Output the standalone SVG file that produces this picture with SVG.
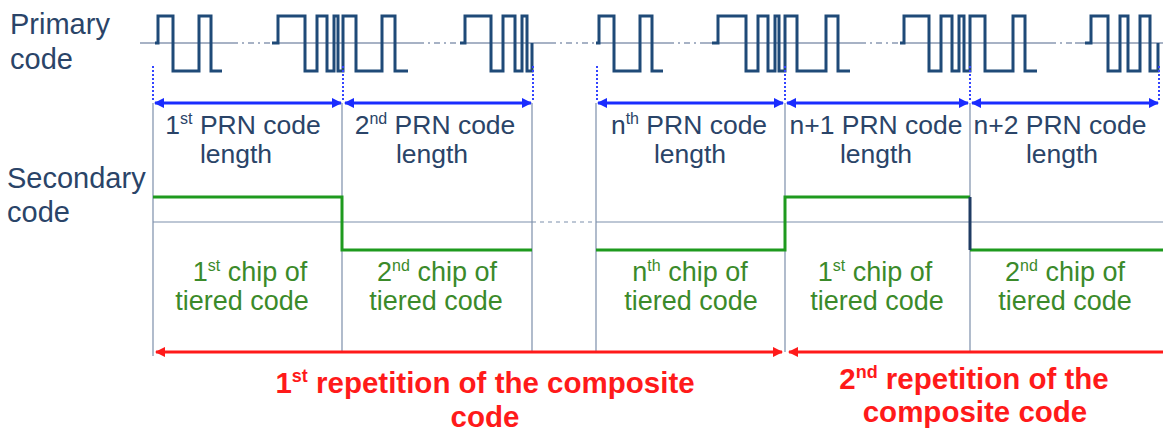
<svg xmlns="http://www.w3.org/2000/svg" width="1163" height="432" viewBox="0 0 1163 432">
<style>
text{font-family:"Liberation Sans",Arial,sans-serif}
.lbl{font-size:29px;fill:#2a4468}
.prn{font-size:26.5px;fill:#2a4468;text-anchor:middle}
.chip{font-size:27px;fill:#3b8a2a;text-anchor:middle}
.rep{font-size:29.5px;fill:#ff1a1a;font-weight:bold;text-anchor:middle}
.wave{fill:none;stroke:#1f4a78;stroke-width:3}
.base{fill:none;stroke:#8a99b3;stroke-width:1.5}
.dash{fill:none;stroke:#8a99b3;stroke-width:1.5;stroke-dasharray:6 4 2 4}
.grid{fill:none;stroke:#7d8fab;stroke-width:1.2}
.dot{fill:none;stroke:#3344ff;stroke-width:2;stroke-dasharray:2 2}
.barr{fill:none;stroke:#1a2cff;stroke-width:3}
.rarr{fill:none;stroke:#ff1a1a;stroke-width:3}
.grn{fill:none;stroke:#1e9a1e;stroke-width:3}
</style>
<defs>
<marker id="bh" viewBox="0 0 10 10" refX="9" refY="5" markerWidth="3.5" markerHeight="3.5" orient="auto-start-reverse"><path d="M0,0 L10,5 L0,10 z" fill="#1a2cff"/></marker>
<marker id="rh" viewBox="0 0 10 10" refX="9" refY="5" markerWidth="3.5" markerHeight="3.5" orient="auto-start-reverse"><path d="M0,0 L10,5 L0,10 z" fill="#ff1a1a"/></marker>
</defs>
<g id="labels">
<text class="lbl" x="10" y="34">Primary</text>
<text class="lbl" x="10" y="69">code</text>
<text class="lbl" x="7" y="188">Secondary</text>
<text class="lbl" x="7" y="222">code</text>
</g>
<g id="primary-code">
<path class="base" d="M140,43 H232 M272,43 H418 M460,43 H550 M596,43 H668 M702,43 H860 M900,43 H1050 M1075,43 H1163"/>
<path class="dash" d="M232,43 H272 M418,43 H460 M550,43 H596 M668,43 H702 M860,43 H900 M1050,43 H1075"/>
<path class="wave" d="M155,43 H158 V16 H173 V71 H199 V16 H211 V71 H222"/>
<path class="wave" d="M272,43 H278 V16 H305 V71 H317 V16 H327 V71 H334 V16 H338 V71 H343 V16 H356 V71 H382 V16 H395 V71 H408"/>
<path class="wave" d="M460,43 H465 V16 H491 V71 H503 V16 H515 V71 H522 V16 H527 V71 H532 V43"/>
<path class="wave" d="M596,43 H599 V16 H614 V71 H640 V16 H652 V71 H663"/>
<path class="wave" d="M712,43 H718 V16 H746 V71 H758 V16 H768 V71 H775 V16 H779 V71 H785 V16 H797 V71 H826 V16 H838 V71 H850"/>
<path class="wave" d="M900,43 H904 V16 H929 V71 H941 V16 H952 V71 H959 V16 H964 V71 H970 V16 H985 V71 H1013 V16 H1025 V71 H1037"/>
<path class="wave" d="M1085,43 H1091 V16 H1108 V71 H1120 V16 H1128 V71 H1140 V16 H1150 V71 H1158 V43"/>
</g>
<g id="connectors">
<path class="dot" d="M153,66 V101 M343,66 V101 M533,66 V101 M597,66 V101 M785,66 V101 M970,66 V101 M1159,66 V101"/>
<path class="barr" marker-start="url(#bh)" marker-end="url(#bh)" d="M155,103 H341"/>
<path class="barr" marker-start="url(#bh)" marker-end="url(#bh)" d="M345,103 H531"/>
<path class="barr" marker-start="url(#bh)" marker-end="url(#bh)" d="M598,103 H783"/>
<path class="barr" marker-start="url(#bh)" marker-end="url(#bh)" d="M787,103 H968"/>
<path class="barr" marker-start="url(#bh)" marker-end="url(#bh)" d="M972,103 H1158"/>
<path class="grid" d="M153,103 V356 M342,103 V352 M532,103 V352 M596,103 V352 M785,103 V352 M970,103 V352"/>
<path class="grid" d="M153,222 H532 M596,222 H1163"/>
<path class="grid" stroke-dasharray="4 4" d="M532,222 H596"/>
<path class="rarr" marker-start="url(#rh)" marker-end="url(#rh)" d="M156,352 H782"/>
<path class="rarr" marker-start="url(#rh)" d="M789,352 H1163"/>
</g>
<g id="secondary-code">
<path class="grn" d="M153,197 H342 V250 H532"/>
<path class="grn" d="M596,250 H785 V197 H970"/>
<path class="grn" d="M970,250 H1163"/>
<path fill="none" stroke="#1f3b63" stroke-width="3" d="M970,197 V250"/>
</g>
<g id="prn1"><text class="prn" x="243" y="134">1<tspan font-size="16" dy="-10">st</tspan><tspan dy="10"> PRN code</tspan></text><text class="prn" x="236" y="163">length</text></g>
<g id="prn2"><text class="prn" x="435" y="134">2<tspan font-size="16" dy="-10">nd</tspan><tspan dy="10"> PRN code</tspan></text><text class="prn" x="432" y="163">length</text></g>
<g id="prnn"><text class="prn" x="689" y="134">n<tspan font-size="16" dy="-10">th</tspan><tspan dy="10"> PRN code</tspan></text><text class="prn" x="690" y="163">length</text></g>
<g id="prnn1"><text class="prn" x="876" y="134">n+1 PRN code</text><text class="prn" x="876" y="163">length</text></g>
<g id="prnn2"><text class="prn" x="1060" y="134">n+2 PRN code</text><text class="prn" x="1062" y="163">length</text></g>
<g id="chip1"><text class="chip" x="250" y="281">1<tspan font-size="16" dy="-10">st</tspan><tspan dy="10"> chip of</tspan></text><text class="chip" x="242" y="310">tiered code</text></g>
<g id="chip2"><text class="chip" x="437" y="281">2<tspan font-size="16" dy="-10">nd</tspan><tspan dy="10"> chip of</tspan></text><text class="chip" x="436" y="310">tiered code</text></g>
<g id="chipn"><text class="chip" x="690" y="281">n<tspan font-size="16" dy="-10">th</tspan><tspan dy="10"> chip of</tspan></text><text class="chip" x="691" y="310">tiered code</text></g>
<g id="chipn1"><text class="chip" x="875" y="281">1<tspan font-size="16" dy="-10">st</tspan><tspan dy="10"> chip of</tspan></text><text class="chip" x="877" y="310">tiered code</text></g>
<g id="chipn2"><text class="chip" x="1065" y="281">2<tspan font-size="16" dy="-10">nd</tspan><tspan dy="10"> chip of</tspan></text><text class="chip" x="1065" y="310">tiered code</text></g>
<g id="rep1"><text class="rep" x="485" y="393">1<tspan font-size="18" dy="-11">st</tspan><tspan dy="11"> repetition of the composite</tspan></text><text class="rep" x="485" y="427">code</text></g>
<g id="rep2"><text class="rep" x="974" y="389">2<tspan font-size="18" dy="-11">nd</tspan><tspan dy="11"> repetition of the</tspan></text><text class="rep" x="975" y="422">composite code</text></g>
</svg>
